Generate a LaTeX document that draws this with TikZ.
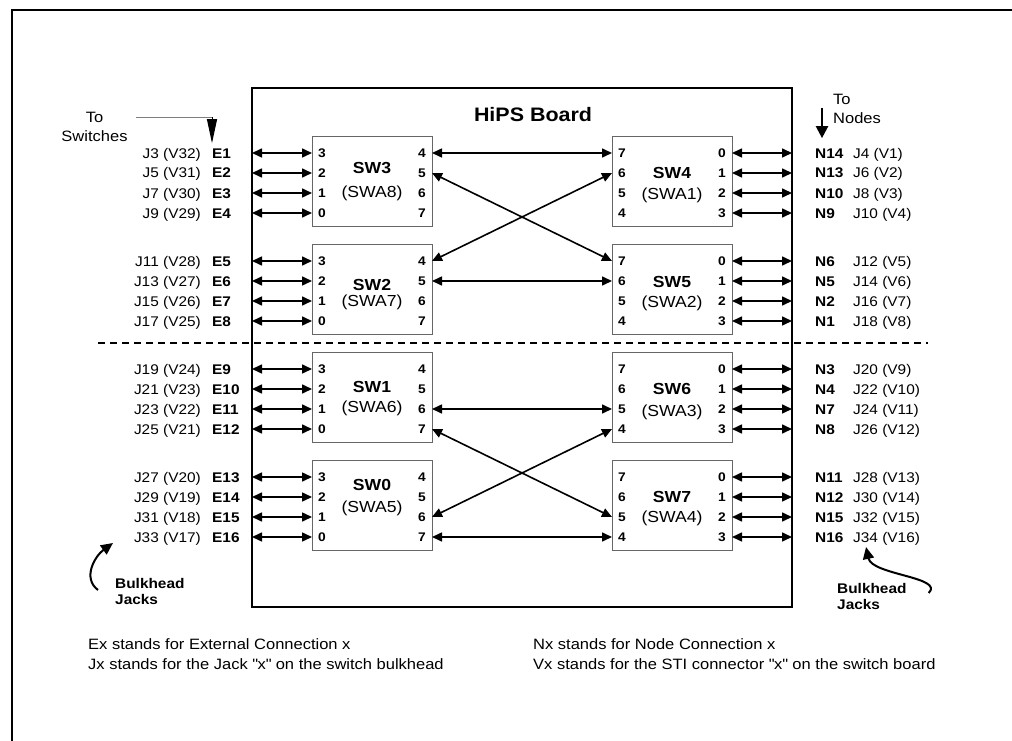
\documentclass[tikz,border=0pt]{standalone}
\usepackage{fontspec}
\setmainfont{Liberation Sans}[FakeStretch=1.1]
\usetikzlibrary{arrows.meta}

\begin{document}
\begin{tikzpicture}[
  x=1pt, y=-1pt,
  board/.style={draw, line width=2.6pt, minimum width=540pt, minimum height=519pt, inner sep=0pt, outer sep=0pt},
  swbox/.style={draw=black!60, line width=0.9pt, minimum width=120pt, minimum height=90pt, inner sep=0pt, outer sep=0pt},
  portnum/.style={font=\bfseries\fontsize{12.5}{14}\selectfont, inner sep=0pt, anchor=base},
  swtitle/.style={font=\bfseries\fontsize{16}{18}\selectfont, inner sep=0pt},
  swsub/.style={font=\fontsize{16}{18}\selectfont, inner sep=0pt},
  jlab/.style={font=\fontsize{14}{16}\selectfont, inner sep=0pt},
  elab/.style={font=\bfseries\fontsize{14}{16}\selectfont, inner sep=0pt, anchor=base west},
  note/.style={font=\fontsize{15}{19}\selectfont, inner sep=0pt},
  bulk/.style={font=\bfseries\fontsize{14}{16}\selectfont, inner sep=0pt, align=left, anchor=west},
  legend/.style={font=\fontsize{15}{17}\selectfont, inner sep=0pt, anchor=base west},
  biarrow/.style={<->, >={Triangle[length=10pt,width=9pt]}, line width=1.6pt},
  lead/.style={-{Triangle[length=24pt,width=10pt]}, line width=1pt},
  downarr/.style={-{Triangle[length=12pt,width=12pt]}, line width=2.2pt},
  curl/.style={-{Triangle[length=12pt,width=11pt]}, line width=2pt}
]
\useasboundingbox (0,0) rectangle (1012,741);
% page frame
\draw[line width=2pt] (12,741) -- (12,10) -- (1012,10);

\node[board] (board) at (522,347.5) {};
\node[font=\bfseries\fontsize{19.5}{22}\selectfont, inner sep=0pt] (boardtitle) at (533,115) {HiPS Board};
\draw[dashed, line width=1.2pt, dash pattern=on 7pt off 5pt] (98,343) -- (928,343);

% switches, left column
\foreach \s/\a/\yt/\ta/\tb in {3/8/136/32/57, 2/7/244/41/58, 1/6/352/35/56, 0/5/460/25/48} {
  \node[swbox, anchor=north] (sw\s) at (372,\yt) {};
  \path (sw\s.north) ++(0,\ta) node[swtitle] (sw\s t) {SW\s} ++(0,{\tb-\ta}) node[swsub] (sw\s a) {(SWA\a)};
  \foreach \p [count=\i] in {3,2,1,0}
    \path (sw\s.north west) ++(0,{20*\i-3}) coordinate (sw\s p\p) ++(10,4.5) node[portnum] (sw\s n\p) {\p};
  \foreach \p [count=\i] in {4,5,6,7}
    \path (sw\s.north east) ++(0,{20*\i-3}) coordinate (sw\s p\p) ++(-10,4.5) node[portnum] (sw\s n\p) {\p};
}
% switches, right column
\foreach \s/\a/\yt/\ta/\tb in {4/1/136/37/59, 5/2/244/38/59, 6/3/352/37/60, 7/4/460/37/58} {
  \node[swbox, anchor=north] (sw\s) at (672,\yt) {};
  \path (sw\s.north) ++(0,\ta) node[swtitle] (sw\s t) {SW\s} ++(0,{\tb-\ta}) node[swsub] (sw\s a) {(SWA\a)};
  \foreach \p [count=\i] in {7,6,5,4}
    \path (sw\s.north west) ++(0,{20*\i-3}) coordinate (sw\s p\p) ++(10,4.5) node[portnum] (sw\s n\p) {\p};
  \foreach \p [count=\i] in {0,1,2,3}
    \path (sw\s.north east) ++(0,{20*\i-3}) coordinate (sw\s p\p) ++(-10,4.5) node[portnum] (sw\s n\p) {\p};
}

% links between switches
\draw[biarrow] (sw3p4) -- (sw4p7);
\draw[biarrow] (sw3p5) -- (sw5p7);
\draw[biarrow] (sw2p4) -- (sw4p6);
\draw[biarrow] (sw2p5) -- (sw5p6);
\draw[biarrow] (sw1p6) -- (sw6p5);
\draw[biarrow] (sw1p7) -- (sw7p5);
\draw[biarrow] (sw0p6) -- (sw6p4);
\draw[biarrow] (sw0p7) -- (sw7p4);

% external connections
\foreach \s [count=\b] in {3,2,1,0} {
  \foreach \p [count=\i] in {3,2,1,0} {
    \pgfmathtruncatemacro{\r}{4*(\b-1)+\i}
    \pgfmathtruncatemacro{\j}{2*\r+1}
    \pgfmathtruncatemacro{\v}{33-\r}
    \draw[biarrow] (board.west |- sw\s p\p) -- (sw\s p\p);
    \path (board.west |- sw\s p\p) ++(-40,5) node[elab] (e\r) {E\r};
    \path (board.west |- sw\s p\p) ++(-51,5) node[jlab, anchor=base east] (jl\r) {J\j\ (V\v)};
  }
}
% node connections
\foreach \s/\p/\n [count=\r] in {4/0/14, 4/1/13, 4/2/10, 4/3/9, 5/0/6, 5/1/5, 5/2/2, 5/3/1,
                                  6/0/3, 6/1/4, 6/2/7, 6/3/8, 7/0/11, 7/1/12, 7/2/15, 7/3/16} {
  \pgfmathtruncatemacro{\j}{2*\r+2}
  \draw[biarrow] (sw\s p\p) -- (board.east |- sw\s p\p);
  \path (board.east |- sw\s p\p) ++(23,5) node[elab] (n\n) {N\n};
  \path (board.east |- sw\s p\p) ++(61,5) node[jlab, anchor=base west] (jr\r) {J\j\ (V\r)};
}

% pointers
\node[note, align=center] (toswitch) at (94.5,127) {To\\Switches};
\coordinate (swbend) at (212,117);
\draw[gray, line width=0.8pt] (toswitch.east |- swbend) ++(8,0) -- (swbend);
\draw[lead, shorten >=5pt] (swbend) -- (swbend |- e1.north);

\node[note, align=left, anchor=west] (tonodes) at (833,109) {To\\Nodes};
\coordinate (ndtop) at (822,108);
\draw[downarr, shorten >=10pt] (ndtop) -- (ndtop |- n14.north);

\node[bulk] (bulkl) at (115,591) {Bulkhead\\Jacks};
\coordinate (bulkltip) at (113,543);
\draw[curl] (bulkl.west) ++(-17,-1) .. controls +(-16,-12) and +(-18,13) .. (bulkltip);

\node[bulk] (bulkr) at (837,596) {Bulkhead\\Jacks};
\coordinate (bulkrtip) at (866,547);
\draw[curl] (bulkr.east) ++(22,-3) .. controls +(16,-16) and +(6,28) .. (bulkrtip);

% legend
\node[legend] (legex) at (88,649) {Ex stands for External Connection x};
\node[legend] (legjx) at (88,669) {Jx stands for the Jack \textquotedbl x\textquotedbl\ on the switch bulkhead};
\node[legend] (legnx) at (533,649) {Nx stands for Node Connection x};
\node[legend] (legvx) at (533,669) {Vx stands for the STI connector \textquotedbl x\textquotedbl\ on the switch board};
\end{tikzpicture}
\end{document}
